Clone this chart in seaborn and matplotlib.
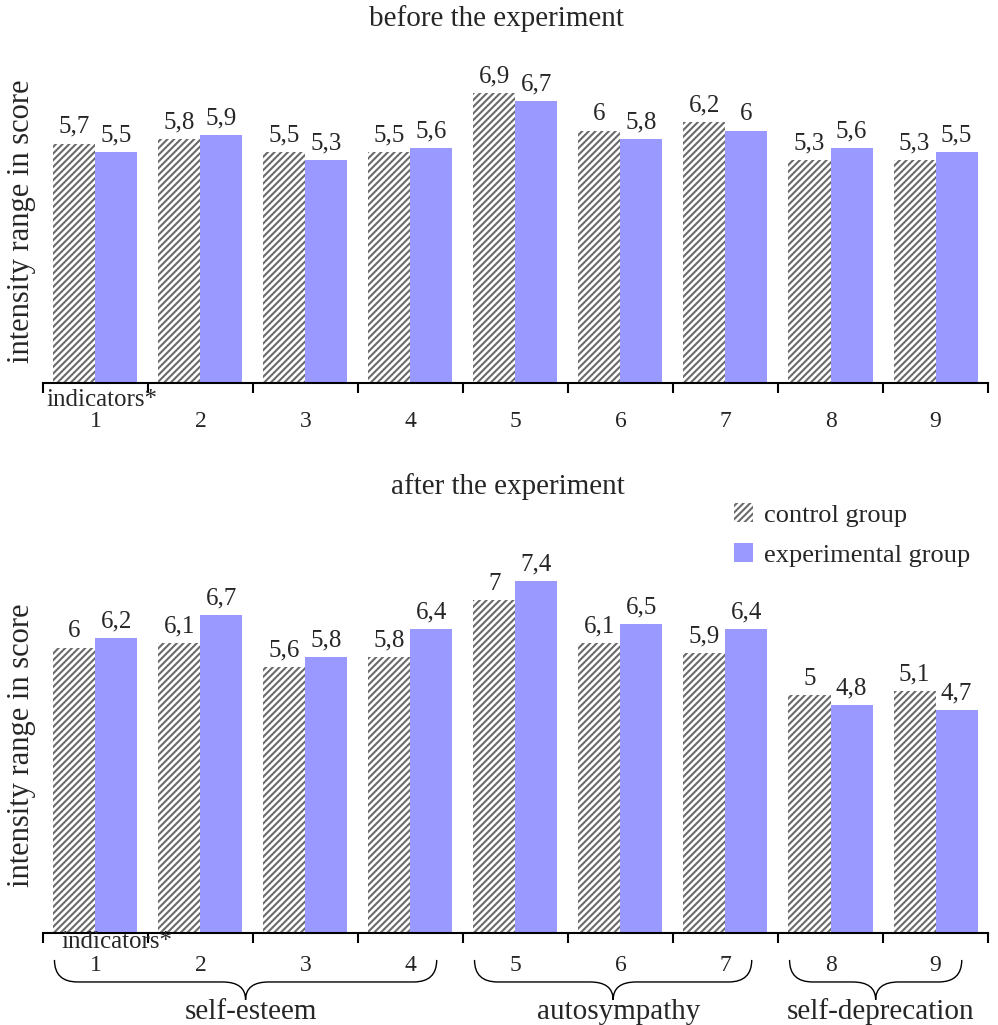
import numpy as np
import pandas as pd
import seaborn as sns
import matplotlib.pyplot as plt
from matplotlib.patches import Patch, PathPatch
from matplotlib.path import Path
from matplotlib.transforms import blended_transform_factory

# indicators and scores (comma is the decimal mark in the labels)
indicators = ["1", "2", "3", "4", "5", "6", "7", "8", "9"]
groups = ["control group", "experimental group"]
before_control = [5.7, 5.8, 5.5, 5.5, 6.9, 6.0, 6.2, 5.3, 5.3]
before_exp = [5.5, 5.9, 5.3, 5.6, 6.7, 5.8, 6.0, 5.6, 5.5]
after_control = [6.0, 6.1, 5.6, 5.8, 7.0, 6.1, 5.9, 5.0, 5.1]
after_exp = [6.2, 6.7, 5.8, 6.4, 7.4, 6.5, 6.4, 4.8, 4.7]

# scale groups under the second chart: name, first and last indicator index
scale_names = ["self-esteem", "autosympathy", "self-deprecation"]
scale_start = [0, 4, 7]
scale_end = [3, 6, 8]

blue = "#9999FF"
hatch_col = "#6a6a6a"

sns.set_style("white")
plt.rcParams['font.family'] = ['Liberation Serif', 'DejaVu Serif']
plt.rcParams['hatch.color'] = hatch_col
plt.rcParams['hatch.linewidth'] = 1.5


def long_table(ctrl, exp):
    return pd.DataFrame({
        "indicator": indicators * 2,
        "score": ctrl + exp,
        "group": [groups[0]] * len(ctrl) + [groups[1]] * len(exp),
    })


def draw(ax, ctrl, exp, num_pad, ind_y, ind_x):
    df = long_table(ctrl, exp)
    sns.barplot(data=df, x="indicator", y="score", hue="group", hue_order=groups,
                order=indicators, palette=["white", blue], width=0.8, gap=0,
                saturation=1, legend=False, ax=ax)
    for p in ax.containers[0]:
        p.set_hatch("/////")
        p.set_edgecolor(hatch_col)
        p.set_linewidth(0)
    for p in ax.containers[1]:
        p.set_linewidth(0)
    for cont, vals in zip(ax.containers, [ctrl, exp]):
        labels = [f"{v:g}".replace(".", ",") for v in vals]
        ax.bar_label(cont, labels=labels, padding=4, fontsize=18)
    ax.set_xlim(-0.5, 8.5)
    ax.set_ylim(0, 8)
    ax.set_xticks(np.arange(-0.5, 9, 1))
    ax.set_xticklabels([])
    ax.set_xticks(range(9), labels=indicators, minor=True)
    ax.tick_params(axis="x", which="major", direction="out", length=7, width=1.5,
                   color="black", bottom=True)
    ax.tick_params(axis="x", which="minor", length=0, pad=num_pad, labelsize=17)
    ax.set_yticks([])
    ax.set_xlabel("")
    ax.set_ylabel("")
    sns.despine(ax=ax, left=True)
    ax.spines["bottom"].set_linewidth(1.5)
    ax.spines["bottom"].set_color("black")
    ax.text(ind_x, ind_y, "indicators*", transform=ax.transAxes, fontsize=18,
            ha="left", va="center")


fig = plt.figure(figsize=(9.98, 10.25), dpi=100)
ax1 = fig.add_axes([0.043, 0.6263, 0.947, 0.328])
ax2 = fig.add_axes([0.043, 0.0898, 0.947, 0.3707])

draw(ax1, before_control, before_exp, num_pad=20, ind_y=-0.051, ind_x=0.004)
draw(ax2, after_control, after_exp, num_pad=16, ind_y=-0.024, ind_x=0.02)

fig.text(0.497, 0.982, "before the experiment", fontsize=21, ha="center", va="center")
fig.text(0.509, 0.525, "after the experiment", fontsize=21, ha="center", va="center")
fig.text(0.022, 0.784, "intensity range in score", fontsize=22, rotation=90,
         ha="center", va="center")
fig.text(0.022, 0.273, "intensity range in score", fontsize=22, rotation=90,
         ha="center", va="center")

handles = [Patch(facecolor="white", edgecolor=hatch_col, hatch="/////", linewidth=0),
           Patch(facecolor=blue, linewidth=0)]
fig.legend(handles, groups, loc="upper left", bbox_to_anchor=(0.735, 1 - 503 / 1025),
           frameon=False, fontsize=19, handlelength=0.75, handleheight=0.75,
           handletextpad=0.4, labelspacing=0.6, borderpad=0, borderaxespad=0)

# curly braces under the indicator numbers of the second chart
tr = blended_transform_factory(ax2.transData, ax2.transAxes)
y_top, y_mid, y_tip, y_txt = -0.071, -0.129, -0.176, -0.208
for name, s, e in zip(scale_names, scale_start, scale_end):
    x0, x1 = s - 0.39, e + 0.25
    xm = (x0 + x1) / 2
    r = 0.22
    verts = [(x0, y_top), (x0, y_mid), (x0 + r, y_mid),
             (xm - r, y_mid), (xm, y_mid), (xm, y_tip),
             (xm, y_mid), (xm + r, y_mid),
             (x1 - r, y_mid), (x1, y_mid), (x1, y_top)]
    codes = [Path.MOVETO, Path.CURVE3, Path.CURVE3,
             Path.LINETO, Path.CURVE3, Path.CURVE3,
             Path.CURVE3, Path.CURVE3,
             Path.LINETO, Path.CURVE3, Path.CURVE3]
    ax2.add_patch(PathPatch(Path(verts, codes), transform=tr, facecolor="none",
                            edgecolor="black", linewidth=1.0, clip_on=False))
    ax2.text(xm + 0.05, y_txt, name, transform=tr, fontsize=21, ha="center", va="center")

fig.savefig("out.png", dpi=100)
